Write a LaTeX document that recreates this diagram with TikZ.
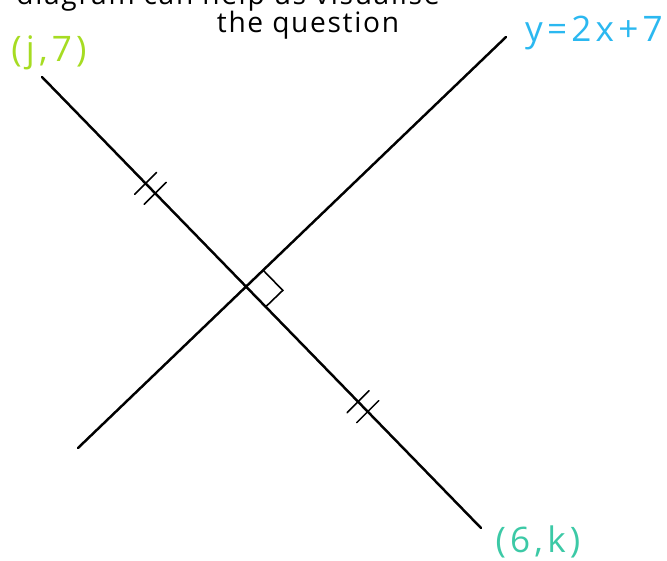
\documentclass[tikz,border=0pt]{standalone}
\usepackage{fontspec}
\setmainfont{Open Sans}
\usetikzlibrary{calc}
\definecolor{jgreen}{HTML}{A6DC22}
\definecolor{lineblue}{HTML}{2BB8F0}
\definecolor{kteal}{HTML}{3CC9A6}
\tikzset{
	seg/.style={line width=1.4pt, line cap=round},
	tickmark/.style={line width=0.9pt, line cap=round},
	headtxt/.style={inner sep=0pt, anchor=base, font=\fontsize{16}{18}\selectfont\addfontfeature{LetterSpace=6}},
	lbl/.style={inner sep=0pt, font=\fontsize{20}{22}\selectfont\addfontfeature{LetterSpace=12}}
}

\begin{document}
\begin{tikzpicture}[x=0.2mm, y=-0.2mm]
	\useasboundingbox (0,0) rectangle (667,561);
	% Ends of the two lines:
	\coordinate (jtop) at (42,77);
	\coordinate (kend) at (481,528);
	\coordinate (lbot) at (78,448);
	\coordinate (ltop) at (506,37);
	\coordinate (X) at (246,287);
	% Heading, cut at the top:
	\begin{scope}
		\clip (0,0) rectangle (667,561);
		\node[headtxt](head1) at (228,5){diagram can help us visualise};
	\end{scope}
	\node[headtxt](head2) at (308,33){the question};
	% Lines:
	\draw[seg] (jtop) -- (kend);
	\draw[seg] (lbot) -- (ltop);
	% Equal-length marks:
	\foreach \t in {0.236,0.258,0.720,0.742}
		\draw[tickmark] ($(jtop)!\t!(kend)$) ++(-11,11) -- ++(22,-22);
	% Right angle:
	\coordinate (ra) at ($(X)!0.0665!(ltop)$);
	\coordinate (rb) at ($(X)!0.083!(kend)$);
	\draw[tickmark] (ra) -- ($(ra)+(rb)-(X)$) -- (rb);
	% Labels:
	\node[lbl, text=jgreen](jlbl) at (49,53){(j,7)};
	\node[lbl, text=lineblue](eqlbl) at (594,33){y=2x+7};
	\node[lbl, text=kteal](klbl) at (538,542){(6,k)};
\end{tikzpicture}
\end{document}
